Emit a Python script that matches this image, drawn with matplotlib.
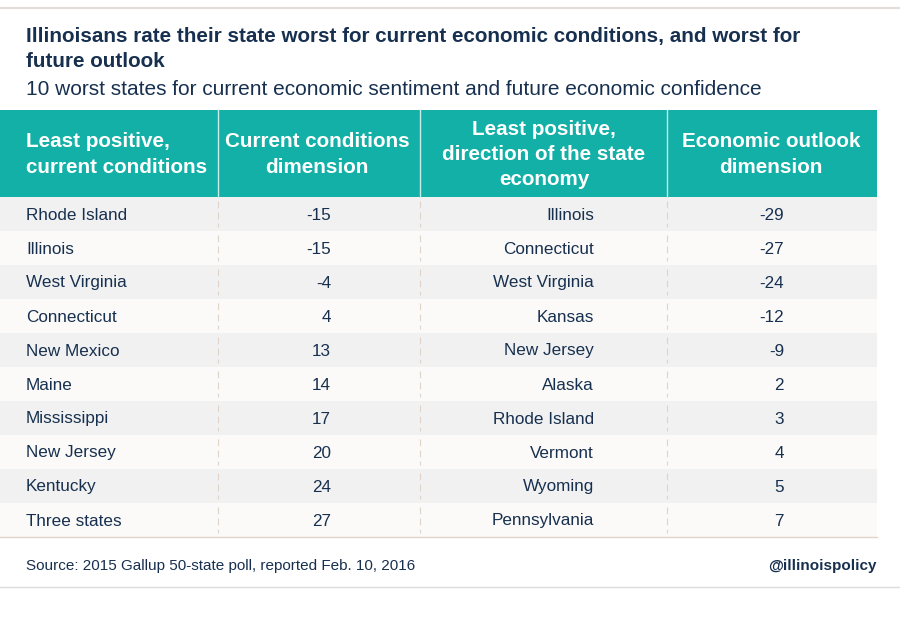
import matplotlib
matplotlib.use("Agg")
import matplotlib.pyplot as plt
from matplotlib.patches import Rectangle

# Datos de la tabla
estados_actual = ["Rhode Island", "Illinois", "West Virginia", "Connecticut", "New Mexico",
                  "Maine", "Mississippi", "New Jersey", "Kentucky", "Three states"]
dim_actual = [-15, -15, -4, 4, 13, 14, 17, 20, 24, 27]
estados_futuro = ["Illinois", "Connecticut", "West Virginia", "Kansas", "New Jersey",
                  "Alaska", "Rhode Island", "Vermont", "Wyoming", "Pennsylvania"]
dim_futuro = [-29, -27, -24, -12, -9, 2, 3, 4, 5, 7]
encabezados = ["Least positive,\ncurrent conditions",
               "Current conditions\ndimension",
               "Least positive,\ndirection of the state\neconomy",
               "Economic outlook\ndimension"]

TITULO = ["Illinoisans rate their state worst for current economic conditions, and worst for",
          "future outlook"]
SUBTITULO = "10 worst states for current economic sentiment and future economic confidence"
FUENTE = "Source: 2015 Gallup 50-state poll, reported Feb. 10, 2016"
HANDLE = "@illinoispolicy"

# Paleta
TEAL = "#12b0a6"
NAVY = "#17304f"
GRIS_FILA = "#f1f1f1"
BLANCO_FILA = "#fbfaf8"
LINEA = "#e0d4c8"
FONT = "Liberation Sans"

W, H = 900, 622
fig = plt.figure(figsize=(9, 6.22), dpi=100)
ax = fig.add_axes([0, 0, 1, 1])
ax.set_xlim(0, W)
ax.set_ylim(H, 0)
ax.axis("off")

# Líneas superior e inferior
ax.plot([0, W], [8, 8], color="#e2ddd8", lw=1.5)
ax.plot([0, 900], [587, 587], color="#dcdcdc", lw=1)

for i, linea in enumerate(TITULO):
    ax.text(26, 42 + i * 25, linea, fontsize=14.9, fontweight="bold", color=NAVY,
            family=FONT, va="baseline")
ax.text(26, 95, SUBTITULO, fontsize=15.0, color=NAVY, family=FONT, va="baseline")

# Encabezado
x_cols = [0, 218, 420, 667, 877]
y_head, h_head = 110, 87
ax.add_patch(Rectangle((0, y_head), 877, h_head, color=TEAL, lw=0))
for x in x_cols[1:-1]:
    ax.plot([x, x], [y_head, y_head + h_head], color="#c9ece8", lw=1)

ha_head = ["left", "center", "center", "center"]
x_head = [26, 317, 544, 771]
for txt, ha, x in zip(encabezados, ha_head, x_head):
    ax.text(x, y_head + h_head / 2 + 1, txt, fontsize=14.9, fontweight="bold", color="white",
            family=FONT, ha=ha, va="center", multialignment=ha, linespacing=1.42)

# Filas
h_row = 34
y0 = y_head + h_head
for i in range(len(estados_actual)):
    y = y0 + i * h_row
    ax.add_patch(Rectangle((0, y), 877, h_row, color=GRIS_FILA if i % 2 == 0 else BLANCO_FILA, lw=0))
    for x in x_cols[1:-1]:
        ax.plot([x, x], [y + 4, y + h_row - 4], color=LINEA, lw=0.8, ls=(0, (6, 4)))
    yc = y + h_row / 2 + 1
    kw = dict(fontsize=12.3, color=NAVY, family=FONT, va="center")
    ax.text(26, yc, estados_actual[i], ha="left", **kw)
    ax.text(331, yc, f"{dim_actual[i]}", ha="right", **kw)
    ax.text(594, yc, estados_futuro[i], ha="right", **kw)
    ax.text(784, yc, f"{dim_futuro[i]}", ha="right", **kw)

y_fin = y0 + len(estados_actual) * h_row
ax.plot([0, 877], [y_fin, y_fin], color=LINEA, lw=1)

# Pie
ax.text(26, 566, FUENTE, fontsize=11, color=NAVY, family=FONT, va="center")
ax.text(877, 566, HANDLE, fontsize=11, fontweight="bold", color=NAVY, family=FONT,
        va="center", ha="right")

fig.savefig("out.png", dpi=100, facecolor="white")
